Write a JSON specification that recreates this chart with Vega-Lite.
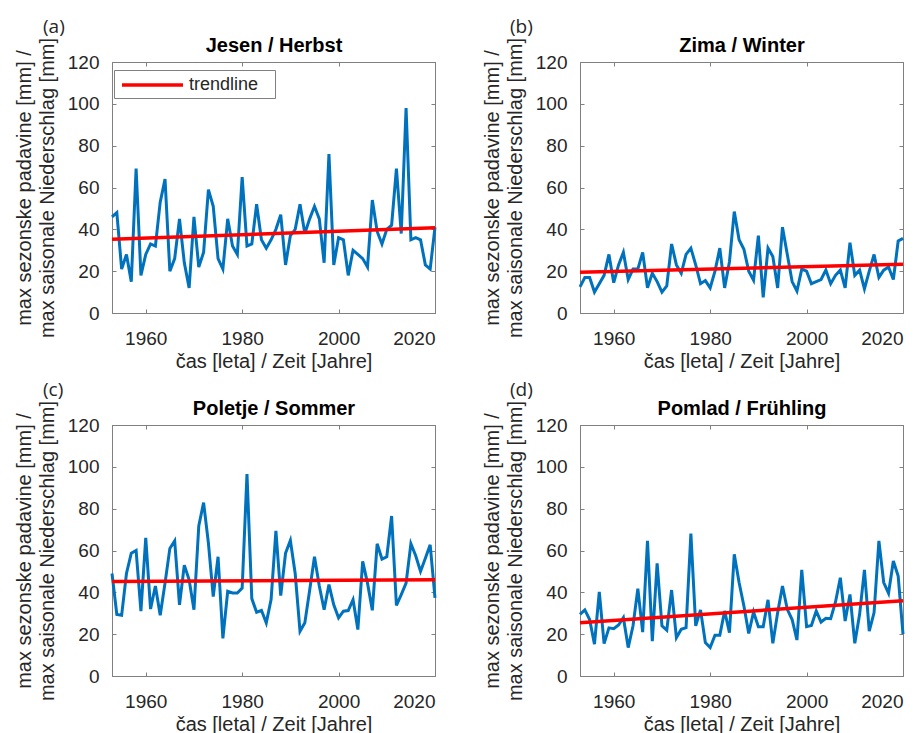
{
  "$schema": "https://vega.github.io/schema/vega-lite/v6.json",
  "padding": {"left": 13, "top": 17, "right": 5, "bottom": 0},
  "config": {
    "font": "Liberation Sans",
    "view": {"stroke": "#808080", "strokeWidth": 1},
    "axis": {"grid": false, "domain": true, "ticks": true, "domainColor": "#808080", "tickColor": "#808080", "labelColor": "#262626", "titleColor": "#262626", "labelFontSize": 19, "titleFontSize": 20, "titleFontWeight": "normal", "labelFont": "Liberation Sans", "titleFont": "Liberation Sans", "tickSize": -4, "tickWidth": 1, "domainWidth": 1, "titleLineHeight": 23},
    "title": {"font": "Open Sans", "fontSize": 19, "fontWeight": "normal", "color": "#262626", "anchor": "start", "frame": "group", "offset": -1}
  },
  "datasets": {
    "obs": [
      {"panel":"a","year":1953,"value":46},{"panel":"a","year":1954,"value":48},{"panel":"a","year":1955,"value":21},{"panel":"a","year":1956,"value":28},{"panel":"a","year":1957,"value":15},{"panel":"a","year":1958,"value":69},{"panel":"a","year":1959,"value":18},{"panel":"a","year":1960,"value":28},{"panel":"a","year":1961,"value":33},{"panel":"a","year":1962,"value":32},
      {"panel":"a","year":1963,"value":53},{"panel":"a","year":1964,"value":64},{"panel":"a","year":1965,"value":20},{"panel":"a","year":1966,"value":26},{"panel":"a","year":1967,"value":45},{"panel":"a","year":1968,"value":24},{"panel":"a","year":1969,"value":12},{"panel":"a","year":1970,"value":46},{"panel":"a","year":1971,"value":22},{"panel":"a","year":1972,"value":29},
      {"panel":"a","year":1973,"value":59},{"panel":"a","year":1974,"value":51},{"panel":"a","year":1975,"value":26},{"panel":"a","year":1976,"value":21},{"panel":"a","year":1977,"value":45},{"panel":"a","year":1978,"value":32},{"panel":"a","year":1979,"value":28},{"panel":"a","year":1980,"value":65},{"panel":"a","year":1981,"value":32},{"panel":"a","year":1982,"value":33},
      {"panel":"a","year":1983,"value":52},{"panel":"a","year":1984,"value":35},{"panel":"a","year":1985,"value":31},{"panel":"a","year":1986,"value":35},{"panel":"a","year":1987,"value":40},{"panel":"a","year":1988,"value":47},{"panel":"a","year":1989,"value":23},{"panel":"a","year":1990,"value":37},{"panel":"a","year":1991,"value":40},{"panel":"a","year":1992,"value":52},
      {"panel":"a","year":1993,"value":38},{"panel":"a","year":1994,"value":45},{"panel":"a","year":1995,"value":51},{"panel":"a","year":1996,"value":45},{"panel":"a","year":1997,"value":24},{"panel":"a","year":1998,"value":76},{"panel":"a","year":1999,"value":23},{"panel":"a","year":2000,"value":36},{"panel":"a","year":2001,"value":35},{"panel":"a","year":2002,"value":18},
      {"panel":"a","year":2003,"value":30},{"panel":"a","year":2004,"value":28},{"panel":"a","year":2005,"value":26},{"panel":"a","year":2006,"value":22},{"panel":"a","year":2007,"value":54},{"panel":"a","year":2008,"value":39},{"panel":"a","year":2009,"value":33},{"panel":"a","year":2010,"value":40},{"panel":"a","year":2011,"value":42},{"panel":"a","year":2012,"value":69},
      {"panel":"a","year":2013,"value":38},{"panel":"a","year":2014,"value":98},{"panel":"a","year":2015,"value":35},{"panel":"a","year":2016,"value":36},{"panel":"a","year":2017,"value":35},{"panel":"a","year":2018,"value":23},{"panel":"a","year":2019,"value":21},{"panel":"a","year":2020,"value":41},

      {"panel":"b","year":1953,"value":12.5},{"panel":"b","year":1954,"value":17},{"panel":"b","year":1955,"value":17},{"panel":"b","year":1956,"value":10},{"panel":"b","year":1957,"value":14},{"panel":"b","year":1958,"value":18},{"panel":"b","year":1959,"value":28},{"panel":"b","year":1960,"value":14.5},{"panel":"b","year":1961,"value":23},{"panel":"b","year":1962,"value":29},
      {"panel":"b","year":1963,"value":16},{"panel":"b","year":1964,"value":21},{"panel":"b","year":1965,"value":21},{"panel":"b","year":1966,"value":29},{"panel":"b","year":1967,"value":12},{"panel":"b","year":1968,"value":19},{"panel":"b","year":1969,"value":15},{"panel":"b","year":1970,"value":10},{"panel":"b","year":1971,"value":13},{"panel":"b","year":1972,"value":33},
      {"panel":"b","year":1973,"value":23},{"panel":"b","year":1974,"value":19},{"panel":"b","year":1975,"value":28},{"panel":"b","year":1976,"value":31},{"panel":"b","year":1977,"value":23},{"panel":"b","year":1978,"value":14},{"panel":"b","year":1979,"value":15.5},{"panel":"b","year":1980,"value":12},{"panel":"b","year":1981,"value":20},{"panel":"b","year":1982,"value":31},
      {"panel":"b","year":1983,"value":12},{"panel":"b","year":1984,"value":24.5},{"panel":"b","year":1985,"value":48.5},{"panel":"b","year":1986,"value":35},{"panel":"b","year":1987,"value":30.5},{"panel":"b","year":1988,"value":20},{"panel":"b","year":1989,"value":15.7},{"panel":"b","year":1990,"value":37},{"panel":"b","year":1991,"value":7.5},{"panel":"b","year":1992,"value":31},
      {"panel":"b","year":1993,"value":27},{"panel":"b","year":1994,"value":12},{"panel":"b","year":1995,"value":41},{"panel":"b","year":1996,"value":28},{"panel":"b","year":1997,"value":15},{"panel":"b","year":1998,"value":10.5},{"panel":"b","year":1999,"value":21},{"panel":"b","year":2000,"value":20},{"panel":"b","year":2001,"value":14},{"panel":"b","year":2002,"value":15},
      {"panel":"b","year":2003,"value":16},{"panel":"b","year":2004,"value":20.5},{"panel":"b","year":2005,"value":14},{"panel":"b","year":2006,"value":18},{"panel":"b","year":2007,"value":20.5},{"panel":"b","year":2008,"value":12},{"panel":"b","year":2009,"value":33.6},{"panel":"b","year":2010,"value":18},{"panel":"b","year":2011,"value":20.5},{"panel":"b","year":2012,"value":11.5},
      {"panel":"b","year":2013,"value":20},{"panel":"b","year":2014,"value":28},{"panel":"b","year":2015,"value":17},{"panel":"b","year":2016,"value":20.5},{"panel":"b","year":2017,"value":22},{"panel":"b","year":2018,"value":16},{"panel":"b","year":2019,"value":34.4},{"panel":"b","year":2020,"value":35.7},

      {"panel":"c","year":1953,"value":49},{"panel":"c","year":1954,"value":29.4},{"panel":"c","year":1955,"value":29},{"panel":"c","year":1956,"value":49},{"panel":"c","year":1957,"value":58.7},{"panel":"c","year":1958,"value":60},{"panel":"c","year":1959,"value":31},{"panel":"c","year":1960,"value":66},{"panel":"c","year":1961,"value":32},{"panel":"c","year":1962,"value":43},
      {"panel":"c","year":1963,"value":29},{"panel":"c","year":1964,"value":44.4},{"panel":"c","year":1965,"value":61},{"panel":"c","year":1966,"value":64.6},{"panel":"c","year":1967,"value":34},{"panel":"c","year":1968,"value":53},{"panel":"c","year":1969,"value":46},{"panel":"c","year":1970,"value":31.7},{"panel":"c","year":1971,"value":71.7},{"panel":"c","year":1972,"value":82.9},
      {"panel":"c","year":1973,"value":63.5},{"panel":"c","year":1974,"value":38},{"panel":"c","year":1975,"value":57},{"panel":"c","year":1976,"value":18},{"panel":"c","year":1977,"value":40.5},{"panel":"c","year":1978,"value":39.7},{"panel":"c","year":1979,"value":39.7},{"panel":"c","year":1980,"value":42},{"panel":"c","year":1981,"value":96.5},{"panel":"c","year":1982,"value":37},
      {"panel":"c","year":1983,"value":30.5},{"panel":"c","year":1984,"value":31.4},{"panel":"c","year":1985,"value":25.4},{"panel":"c","year":1986,"value":36.5},{"panel":"c","year":1987,"value":69.4},{"panel":"c","year":1988,"value":38.4},{"panel":"c","year":1989,"value":58.7},{"panel":"c","year":1990,"value":64.8},{"panel":"c","year":1991,"value":49},{"panel":"c","year":1992,"value":21.4},
      {"panel":"c","year":1993,"value":25.4},{"panel":"c","year":1994,"value":41},{"panel":"c","year":1995,"value":57},{"panel":"c","year":1996,"value":43},{"panel":"c","year":1997,"value":31.7},{"panel":"c","year":1998,"value":43.7},{"panel":"c","year":1999,"value":34},{"panel":"c","year":2000,"value":27.8},{"panel":"c","year":2001,"value":31},{"panel":"c","year":2002,"value":31.3},
      {"panel":"c","year":2003,"value":36.5},{"panel":"c","year":2004,"value":22.2},{"panel":"c","year":2005,"value":54.8},{"panel":"c","year":2006,"value":44.4},{"panel":"c","year":2007,"value":31.4},{"panel":"c","year":2008,"value":63.2},{"panel":"c","year":2009,"value":55.9},{"panel":"c","year":2010,"value":57},{"panel":"c","year":2011,"value":76.5},{"panel":"c","year":2012,"value":33.7},
      {"panel":"c","year":2013,"value":38.9},{"panel":"c","year":2014,"value":44.4},{"panel":"c","year":2015,"value":63.2},{"panel":"c","year":2016,"value":57.5},{"panel":"c","year":2017,"value":50},{"panel":"c","year":2018,"value":56.3},{"panel":"c","year":2019,"value":62.7},{"panel":"c","year":2020,"value":37.3},

      {"panel":"d","year":1953,"value":29.5},{"panel":"d","year":1954,"value":31.6},{"panel":"d","year":1955,"value":27},{"panel":"d","year":1956,"value":15.2},{"panel":"d","year":1957,"value":40.2},{"panel":"d","year":1958,"value":15.5},{"panel":"d","year":1959,"value":23},{"panel":"d","year":1960,"value":22.6},{"panel":"d","year":1961,"value":24.4},{"panel":"d","year":1962,"value":27.9},
      {"panel":"d","year":1963,"value":13.6},{"panel":"d","year":1964,"value":24},{"panel":"d","year":1965,"value":41.8},{"panel":"d","year":1966,"value":21},{"panel":"d","year":1967,"value":64.6},{"panel":"d","year":1968,"value":16.7},{"panel":"d","year":1969,"value":53.9},{"panel":"d","year":1970,"value":24},{"panel":"d","year":1971,"value":21.9},{"panel":"d","year":1972,"value":41.1},
      {"panel":"d","year":1973,"value":18.3},{"panel":"d","year":1974,"value":22.3},{"panel":"d","year":1975,"value":23.1},{"panel":"d","year":1976,"value":68.1},{"panel":"d","year":1977,"value":24},{"panel":"d","year":1978,"value":31.6},{"panel":"d","year":1979,"value":16},{"panel":"d","year":1980,"value":13.6},{"panel":"d","year":1981,"value":19.5},{"panel":"d","year":1982,"value":19.5},
      {"panel":"d","year":1983,"value":31.1},{"panel":"d","year":1984,"value":20.7},{"panel":"d","year":1985,"value":58.2},{"panel":"d","year":1986,"value":44.7},{"panel":"d","year":1987,"value":33.5},{"panel":"d","year":1988,"value":20.3},{"panel":"d","year":1989,"value":30.6},{"panel":"d","year":1990,"value":23.6},{"panel":"d","year":1991,"value":23.6},{"panel":"d","year":1992,"value":36.4},
      {"panel":"d","year":1993,"value":15.6},{"panel":"d","year":1994,"value":30.3},{"panel":"d","year":1995,"value":43},{"panel":"d","year":1996,"value":31.9},{"panel":"d","year":1997,"value":27},{"panel":"d","year":1998,"value":17.2},{"panel":"d","year":1999,"value":50.7},{"panel":"d","year":2000,"value":23.6},{"panel":"d","year":2001,"value":24.2},{"panel":"d","year":2002,"value":31.1},
      {"panel":"d","year":2003,"value":25.8},{"panel":"d","year":2004,"value":27.6},{"panel":"d","year":2005,"value":27.4},{"panel":"d","year":2006,"value":35.4},{"panel":"d","year":2007,"value":47},{"panel":"d","year":2008,"value":26.3},{"panel":"d","year":2009,"value":39},{"panel":"d","year":2010,"value":15.6},{"panel":"d","year":2011,"value":29.5},{"panel":"d","year":2012,"value":50.7},
      {"panel":"d","year":2013,"value":21.5},{"panel":"d","year":2014,"value":30.3},{"panel":"d","year":2015,"value":64.6},{"panel":"d","year":2016,"value":44.7},{"panel":"d","year":2017,"value":39.6},{"panel":"d","year":2018,"value":55},{"panel":"d","year":2019,"value":47.8},{"panel":"d","year":2020,"value":20}
    ],
    "trend": [
      {"panel":"a","series":"trendline","year":1953,"value":35.2},{"panel":"a","series":"trendline","year":2020,"value":40.8},
      {"panel":"b","series":"trendline","year":1953,"value":19.5},{"panel":"b","series":"trendline","year":2020,"value":23.3},
      {"panel":"c","series":"trendline","year":1953,"value":45.2},{"panel":"c","series":"trendline","year":2020,"value":46},
      {"panel":"d","series":"trendline","year":1953,"value":25.5},{"panel":"d","series":"trendline","year":2020,"value":36}
    ]
  },
  "columns": 2,
  "spacing": {"row": 8, "column": 38},
  "resolve": {"scale": {"color": "independent"}, "legend": {"color": "independent"}},
  "concat": [
    {
      "width": 323, "height": 251,
      "title": {"text": "(a)", "dx": -69},
      "layer": [
        {
          "data": {"name": "obs"},
          "transform": [{"filter": "datum.panel === 'a'"}],
          "mark": {"type": "line", "color": "#0072BD", "strokeWidth": 3},
          "encoding": {
            "x": {"field": "year", "type": "quantitative", "scale": {"domain": [1953, 2020], "nice": false, "zero": false}, "axis": {"orient": "bottom", "values": [1960, 1980, 2000, 2020], "format": "d", "title": "čas [leta] / Zeit [Jahre]", "labelPadding": 20, "titlePadding": 3}},
            "y": {"field": "value", "type": "quantitative", "scale": {"domain": [0, 120], "nice": false}, "axis": {"orient": "left", "values": [0, 20, 40, 60, 80, 100, 120], "title": ["max sezonske padavine [mm] /", "max saisonale Niederschlag [mm]"], "labelPadding": 17, "titlePadding": 10}}
          }
        },
        {
          "data": {"name": "trend"},
          "transform": [{"filter": "datum.panel === 'a'"}],
          "mark": {"type": "line", "color": "#FF0000", "strokeWidth": 3.5},
          "encoding": {
            "x": {"field": "year", "type": "quantitative", "scale": {"domain": [1953, 2020], "nice": false, "zero": false}, "axis": {"orient": "top", "values": [1960, 1980, 2000, 2020], "labels": false, "title": "Jesen / Herbst", "titleFontWeight": "bold", "titleColor": "#000000", "titlePadding": 6}},
            "y": {"field": "value", "type": "quantitative", "scale": {"domain": [0, 120], "nice": false}, "axis": {"orient": "right", "values": [0, 20, 40, 60, 80, 100, 120], "labels": false, "title": null}},
            "color": {"field": "series", "type": "nominal", "scale": {"domain": ["trendline"], "range": ["#FF0000"]}, "legend": {"title": null, "orient": "none", "legendX": 2, "legendY": 8, "strokeColor": "#808080", "fillColor": "#FFFFFF", "padding": 4, "symbolType": "M-0.78,0H6M15,0h0", "symbolSize": 324, "symbolStrokeWidth": 3.5, "labelFontSize": 18, "labelColor": "#262626", "labelFont": "Liberation Sans", "labelOffset": 49}}
          }
        }
      ],
      "resolve": {"axis": {"x": "independent", "y": "independent"}}
    },
    {
      "width": 323, "height": 251,
      "title": {"text": "(b)", "dx": -70},
      "layer": [
        {
          "data": {"name": "obs"},
          "transform": [{"filter": "datum.panel === 'b'"}],
          "mark": {"type": "line", "color": "#0072BD", "strokeWidth": 3},
          "encoding": {
            "x": {"field": "year", "type": "quantitative", "scale": {"domain": [1953, 2020], "nice": false, "zero": false}, "axis": {"orient": "bottom", "values": [1960, 1980, 2000, 2020], "format": "d", "title": "čas [leta] / Zeit [Jahre]", "labelPadding": 20, "titlePadding": 3}},
            "y": {"field": "value", "type": "quantitative", "scale": {"domain": [0, 120], "nice": false}, "axis": {"orient": "left", "values": [0, 20, 40, 60, 80, 100, 120], "title": ["max sezonske padavine [mm] /", "max saisonale Niederschlag [mm]"], "labelPadding": 17, "titlePadding": 10}}
          }
        },
        {
          "data": {"name": "trend"},
          "transform": [{"filter": "datum.panel === 'b'"}],
          "mark": {"type": "line", "color": "#FF0000", "strokeWidth": 3.5},
          "encoding": {
            "x": {"field": "year", "type": "quantitative", "scale": {"domain": [1953, 2020], "nice": false, "zero": false}, "axis": {"orient": "top", "values": [1960, 1980, 2000, 2020], "labels": false, "title": "Zima / Winter", "titleFontWeight": "bold", "titleColor": "#000000", "titlePadding": 6}},
            "y": {"field": "value", "type": "quantitative", "scale": {"domain": [0, 120], "nice": false}, "axis": {"orient": "right", "values": [0, 20, 40, 60, 80, 100, 120], "labels": false, "title": null}}
          }
        }
      ],
      "resolve": {"axis": {"x": "independent", "y": "independent"}}
    },
    {
      "width": 323, "height": 251,
      "title": {"text": "(c)", "dx": -69},
      "layer": [
        {
          "data": {"name": "obs"},
          "transform": [{"filter": "datum.panel === 'c'"}],
          "mark": {"type": "line", "color": "#0072BD", "strokeWidth": 3},
          "encoding": {
            "x": {"field": "year", "type": "quantitative", "scale": {"domain": [1953, 2020], "nice": false, "zero": false}, "axis": {"orient": "bottom", "values": [1960, 1980, 2000, 2020], "format": "d", "title": "čas [leta] / Zeit [Jahre]", "labelPadding": 20, "titlePadding": 3}},
            "y": {"field": "value", "type": "quantitative", "scale": {"domain": [0, 120], "nice": false}, "axis": {"orient": "left", "values": [0, 20, 40, 60, 80, 100, 120], "title": ["max sezonske padavine [mm] /", "max saisonale Niederschlag [mm]"], "labelPadding": 17, "titlePadding": 10}}
          }
        },
        {
          "data": {"name": "trend"},
          "transform": [{"filter": "datum.panel === 'c'"}],
          "mark": {"type": "line", "color": "#FF0000", "strokeWidth": 3.5},
          "encoding": {
            "x": {"field": "year", "type": "quantitative", "scale": {"domain": [1953, 2020], "nice": false, "zero": false}, "axis": {"orient": "top", "values": [1960, 1980, 2000, 2020], "labels": false, "title": "Poletje / Sommer", "titleFontWeight": "bold", "titleColor": "#000000", "titlePadding": 6}},
            "y": {"field": "value", "type": "quantitative", "scale": {"domain": [0, 120], "nice": false}, "axis": {"orient": "right", "values": [0, 20, 40, 60, 80, 100, 120], "labels": false, "title": null}}
          }
        }
      ],
      "resolve": {"axis": {"x": "independent", "y": "independent"}}
    },
    {
      "width": 323, "height": 251,
      "title": {"text": "(d)", "dx": -70},
      "layer": [
        {
          "data": {"name": "obs"},
          "transform": [{"filter": "datum.panel === 'd'"}],
          "mark": {"type": "line", "color": "#0072BD", "strokeWidth": 3},
          "encoding": {
            "x": {"field": "year", "type": "quantitative", "scale": {"domain": [1953, 2020], "nice": false, "zero": false}, "axis": {"orient": "bottom", "values": [1960, 1980, 2000, 2020], "format": "d", "title": "čas [leta] / Zeit [Jahre]", "labelPadding": 20, "titlePadding": 3}},
            "y": {"field": "value", "type": "quantitative", "scale": {"domain": [0, 120], "nice": false}, "axis": {"orient": "left", "values": [0, 20, 40, 60, 80, 100, 120], "title": ["max sezonske padavine [mm] /", "max saisonale Niederschlag [mm]"], "labelPadding": 17, "titlePadding": 10}}
          }
        },
        {
          "data": {"name": "trend"},
          "transform": [{"filter": "datum.panel === 'd'"}],
          "mark": {"type": "line", "color": "#FF0000", "strokeWidth": 3.5},
          "encoding": {
            "x": {"field": "year", "type": "quantitative", "scale": {"domain": [1953, 2020], "nice": false, "zero": false}, "axis": {"orient": "top", "values": [1960, 1980, 2000, 2020], "labels": false, "title": "Pomlad / Frühling", "titleFontWeight": "bold", "titleColor": "#000000", "titlePadding": 6}},
            "y": {"field": "value", "type": "quantitative", "scale": {"domain": [0, 120], "nice": false}, "axis": {"orient": "right", "values": [0, 20, 40, 60, 80, 100, 120], "labels": false, "title": null}}
          }
        }
      ],
      "resolve": {"axis": {"x": "independent", "y": "independent"}}
    }
  ]
}
